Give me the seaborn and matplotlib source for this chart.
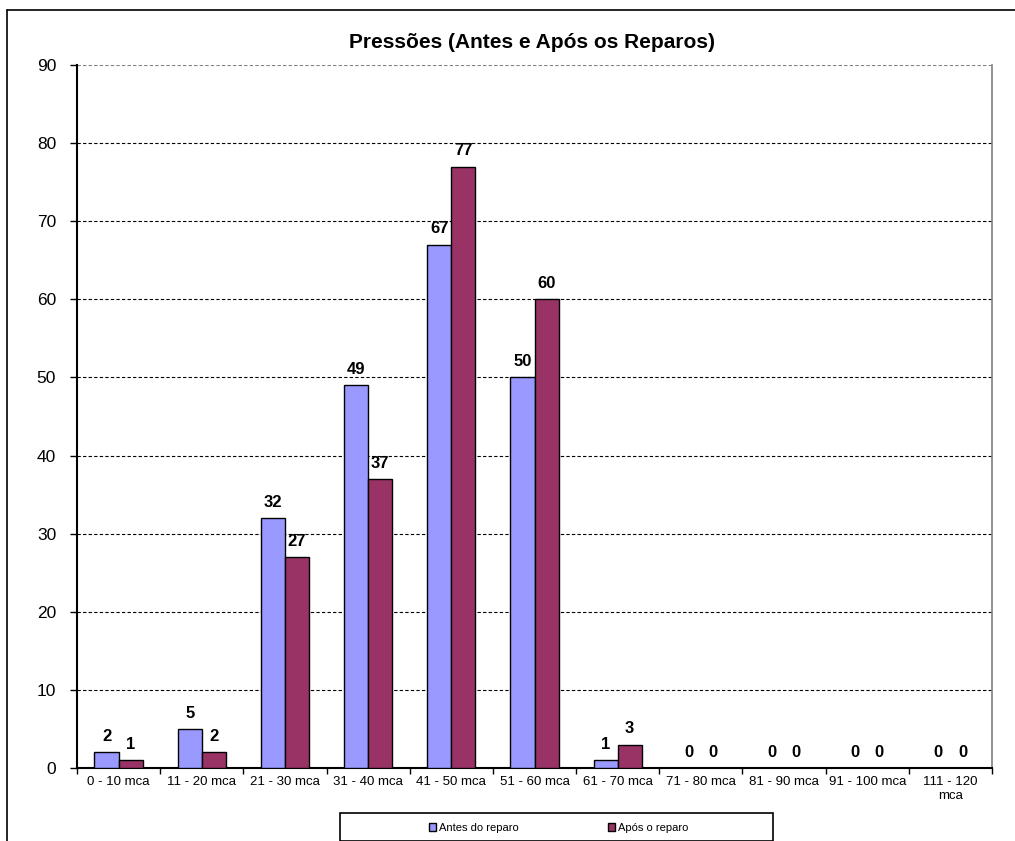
import matplotlib
matplotlib.use("Agg")
import matplotlib.pyplot as plt
from matplotlib.lines import Line2D
from matplotlib.patches import Rectangle
import seaborn as sns
import pandas as pd

# Pressure classes (metres of water column) and counts per class
faixas = ["0 - 10 mca", "11 - 20 mca", "21 - 30 mca", "31 - 40 mca", "41 - 50 mca",
          "51 - 60 mca", "61 - 70 mca", "71 - 80 mca", "81 - 90 mca", "91 - 100 mca",
          "111 - 120\nmca"]
antes = [2, 5, 32, 49, 67, 50, 1, 0, 0, 0, 0]
apos = [1, 2, 27, 37, 77, 60, 3, 0, 0, 0, 0]
series = ["Antes do reparo", "Após o reparo"]
cores = ["#9999FF", "#993366"]

df = pd.DataFrame({
    "faixa": faixas * 2,
    "valor": antes + apos,
    "serie": [series[0]] * len(faixas) + [series[1]] * len(faixas),
})

sns.set_style("white")
plt.rcParams["font.family"] = ["Liberation Sans", "DejaVu Sans"]
plt.rcParams.update({"text.color": "black", "axes.labelcolor": "black",
                     "xtick.color": "black", "ytick.color": "black"})

fig = plt.figure(figsize=(10.15, 8.41), dpi=100)
W, H = 1015, 841
ax = fig.add_axes([77 / W, 1 - 768 / H, (992 - 77) / W, (768 - 65) / H])

sns.barplot(data=df, x="faixa", y="valor", hue="serie", palette=cores,
            width=0.58, gap=0, edgecolor="black", linewidth=1.0,
            saturation=1, ax=ax, legend=False, zorder=3)

for cont in ax.containers:
    ax.bar_label(cont, fmt="%d", padding=6, fontsize=12, fontweight="bold",
                 color="black")

ax.set_ylim(0, 90)
ax.set_xlim(-0.5, len(faixas) - 0.5)
ax.set_yticks(range(0, 91, 10))
ax.set_xlabel("")
ax.set_ylabel("")

# Dashed horizontal gridlines
ax.yaxis.grid(True, linestyle=(0, (3, 2)), color="black", linewidth=0.8)
ax.set_axisbelow(True)
grid = ax.get_ygridlines()
grid[-1].set_color("#808080")

for s in ["left", "bottom"]:
    ax.spines[s].set_color("black")
    ax.spines[s].set_linewidth(1.5)
ax.spines["top"].set_visible(False)
ax.spines["right"].set_color("#808080")
ax.spines["right"].set_linewidth(1.2)

ax.tick_params(axis="y", length=5, width=1, color="black", labelcolor="black",
               labelsize=12.5, pad=10, left=True)
ax.tick_params(axis="x", which="major", length=0, labelsize=9.5, pad=6,
               labelcolor="black")
ax.set_xticks([i - 0.5 for i in range(len(faixas) + 1)], minor=True)
ax.tick_params(axis="x", which="minor", length=4, width=1, color="black", bottom=True)
for lbl in ax.get_xticklabels():
    lbl.set_multialignment("center")

fig.text(532 / W, 1 - 48 / H, "Pressões (Antes e Após os Reparos)",
         ha="center", va="baseline", fontsize=15, fontweight="bold", color="black")

# Legend with a plain rectangular frame
handles = [Rectangle((0, 0), 1, 1, facecolor=c, edgecolor="black", linewidth=1)
           for c in cores]
leg = fig.legend(handles, series, ncol=2, loc="center",
                 bbox_to_anchor=(559 / W, 1 - 828 / H), frameon=False, fontsize=8,
                 handlelength=0.6, handleheight=0.8, handletextpad=0.3,
                 columnspacing=8.0)
for t in leg.get_texts():
    t.set_color("black")
fig.add_artist(Rectangle((340 / W, 1 - 841 / H), (773 - 340) / W, (841 - 813) / H,
                         transform=fig.transFigure, fill=False,
                         edgecolor="black", linewidth=1.2))

# Outer chart border
fig.add_artist(Line2D([7 / W, 7 / W], [0, 1 - 10 / H], transform=fig.transFigure,
                      color="black", linewidth=1.2))
fig.add_artist(Line2D([7 / W, 1], [1 - 10 / H, 1 - 10 / H], transform=fig.transFigure,
                      color="black", linewidth=1.2))

fig.savefig("out.png", dpi=100)
